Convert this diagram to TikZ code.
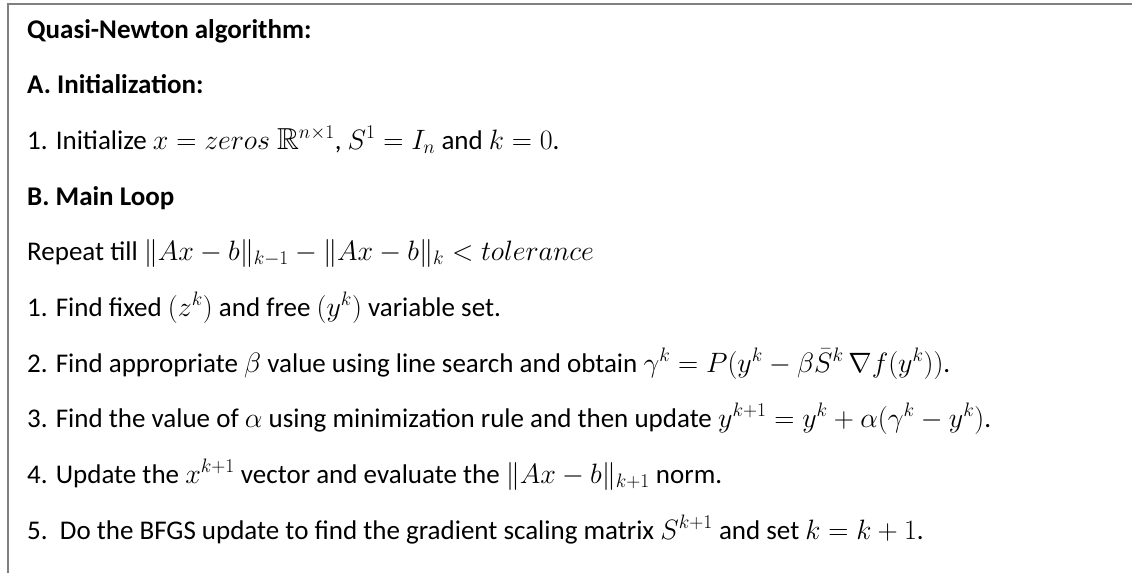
\documentclass[tikz,border=0pt]{standalone}
\usepackage{graphicx}
\usepackage{amsmath,amssymb}
\usepackage[no-math]{fontspec}
\setmainfont{Carlito}
\newcommand\mth[1]{\scalebox{1.125}{$#1$}}
\begin{document}
\begin{tikzpicture}[x=1pt,y=-1pt,
  txt/.style={anchor=base west, inner sep=0pt, font=\fontsize{27}{32}\selectfont},
  hd/.style={anchor=base west, inner sep=0pt, font=\fontsize{27}{32}\selectfont\bfseries},
  frame/.style={draw=black!50, line width=1.5pt}]
\useasboundingbox (0,0) rectangle (1132,573);
\coordinate (fb) at (8,573);
\coordinate (fc) at (8,4);
\coordinate (fr) at (1132,4);
\draw[frame] (fb) -- (fc) -- (fr);
\node[hd]  (title) at (27,38)  {Quasi-Newton algorithm:};
\node[hd]  (secA)  at (27,93.5) {A. Initialization:};
\node[txt] (init)  at (27,149) {1. Initialize \mth{x = zeros\ \mathbb{R}^{n\times 1}}, \mth{S^1 = I_n} and \mth{k = 0}.};
\node[hd]  (secB)  at (27,205) {B. Main Loop};
\node[txt] (rep)   at (27,260) {Repeat till \mth{\|Ax-b\|_{k-1}-\|Ax-b\|_{k} < tolerance}};
\node[txt] (s1)    at (27,316) {1. Find fixed \mth{(z^k)} and free \mth{(y^k)} variable set.};
\node[txt] (s2)    at (27,372) {2. Find appropriate \mth{\beta} value using line search and obtain \mth{\gamma^k = P(y^k-\beta\bar{S}^k\,\nabla f(y^k))}.};
\node[txt] (s3)    at (27,427) {3. Find the value of \mth{\alpha} using minimization rule and then update \mth{y^{k+1} = y^k + \alpha(\gamma^k - y^k)}.};
\node[txt] (s4)    at (27,483) {4. Update the \mth{x^{k+1}} vector and evaluate the \mth{\|Ax-b\|_{k+1}} norm.};
\node[txt] (s5)    at (27,539) {5.\ \ Do the BFGS update to find the gradient scaling matrix \mth{S^{k+1}} and set \mth{k = k + 1}.};
\end{tikzpicture}
\end{document}
